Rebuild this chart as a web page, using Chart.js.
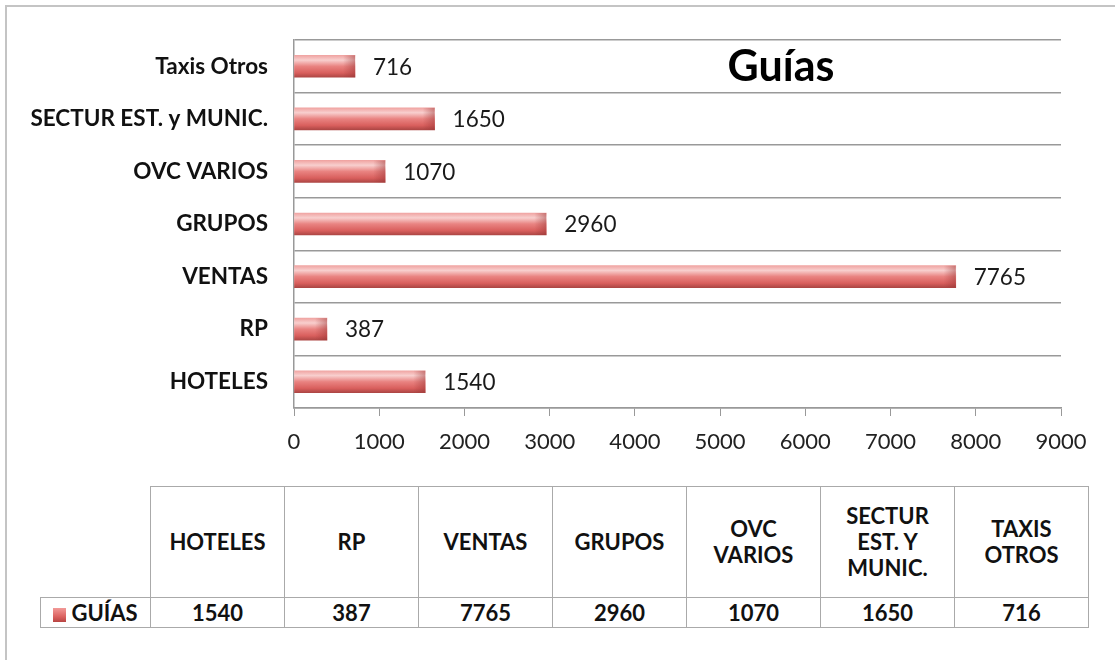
<!DOCTYPE html>
<html>
<head>
<meta charset="utf-8">
<script src="https://cdn.jsdelivr.net/npm/chart.js@4"></script>
<style>
  body { margin: 0; background: #fff; font-family: Lato, sans-serif; }
  #wrap { position: relative; width: 1115px; height: 660px; overflow: hidden; }
  #frame { position: absolute; left: 5px; top: 5px; width: 1130px; height: 680px; border: 2px solid #c4c4c4; }
  #box { position: absolute; left: 0; top: 0; width: 1115px; height: 470px; }
  #tbl { position: absolute; left: 40px; top: 486px; border-collapse: collapse; table-layout: fixed; width: 1048px; }
  #tbl td { border: 1.5px solid #aaa; text-align: center; font-weight: bold; font-size: 22px; color: #111; padding: 0; white-space: pre-line; line-height: 26px; }
  #tbl tr.head td { height: 110px; }
  #tbl tr.head td.blank { border: none; border-bottom: 1.5px solid #aaa; }
  #tbl tr.vals td { height: 29px; }
  .swatch { display: inline-block; width: 13px; height: 14px; margin-right: 5px; vertical-align: -1px;
    background: linear-gradient(#f29a98, #dc6361 60%, #b84442); }
</style>
</head>
<body>
<div id="wrap">
  <div id="frame"></div>
  <div id="box"><canvas id="chart"></canvas></div>
  <table id="tbl"></table>
</div>
<script>
let categories = ['HOTELES', 'RP', 'VENTAS', 'GRUPOS', 'OVC VARIOS', 'SECTUR EST. y MUNIC.', 'Taxis Otros'];
let tableHeads = ['HOTELES', 'RP', 'VENTAS', 'GRUPOS', 'OVC\nVARIOS', 'SECTUR\nEST. Y\nMUNIC.', 'TAXIS\nOTROS'];
let guias = [1540, 387, 7765, 2960, 1070, 1650, 716];
let seriesName = 'GUÍAS';
let xTicks = [0, 1000, 2000, 3000, 4000, 5000, 6000, 7000, 8000, 9000];

// data table under the chart
let tbl = document.getElementById('tbl');
let cols = '<colgroup><col style="width:110px">';
tableHeads.forEach(() => cols += '<col style="width:134px">');
cols += '</colgroup>';
let head = '<tr class="head"><td class="blank"></td>';
tableHeads.forEach(h => head += '<td>' + h + '</td>');
head += '</tr>';
let row = '<tr class="vals"><td><span class="swatch"></span>' + seriesName + '</td>';
guias.forEach(v => row += '<td>' + v + '</td>');
row += '</tr>';
tbl.innerHTML = cols + head + row;

const BAR_H = 22;

// shaded bar fill, computed per bar from the y scale
function barFill(context) {
    let chart = context.chart;
    let y = chart.scales.y;
    if (!y || context.dataIndex === undefined) return '#dc6361';
    let cy = y.getPixelForValue(context.dataIndex);
    if (!isFinite(cy)) return '#dc6361';
    let g = chart.ctx.createLinearGradient(0, cy - BAR_H / 2, 0, cy + BAR_H / 2);
    g.addColorStop(0, '#f0a4a2');
    g.addColorStop(0.22, '#f8cfce');
    g.addColorStop(0.5, '#e98381');
    g.addColorStop(0.8, '#d95f5d');
    g.addColorStop(1, '#ad4644');
    return g;
}

// value labels, bar end shading + title
const extras = {
    id: 'extras',
    afterDatasetsDraw(chart) {
        let c = chart.ctx;
        c.save();
        chart.getDatasetMeta(0).data.forEach((bar, i) => {
            let top = bar.y - BAR_H / 2;
            let g = c.createLinearGradient(bar.x - 12, 0, bar.x, 0);
            g.addColorStop(0, 'rgba(150,50,50,0)');
            g.addColorStop(1, 'rgba(150,50,50,0.45)');
            c.fillStyle = g;
            c.fillRect(bar.x - 12, top, 12, BAR_H);
        });
        c.font = '22.5px Lato';
        c.fillStyle = '#1a1a1a';
        c.textBaseline = 'middle';
        chart.getDatasetMeta(0).data.forEach((bar, i) => {
            c.fillText(guias[i], bar.x + 18, bar.y + 1);
        });
        c.font = 'bold 43px Lato';
        c.fillStyle = '#000';
        c.textAlign = 'center';
        c.fillText('Guías', 781, 67);
        c.restore();
    }
};

let ctx = document.getElementById('chart').getContext('2d');
let myChart = new Chart(ctx, {
    type: 'bar',
    data: {
        labels: categories,
        datasets: [{
            label: seriesName,
            data: guias,
            backgroundColor: barFill,
            borderWidth: 0,
            barThickness: BAR_H
        }]
    },
    plugins: [extras],
    options: {
        indexAxis: 'y',
        responsive: true,
        maintainAspectRatio: false,
        animation: false,
        layout: { padding: { top: 40, right: 54, left: 0, bottom: 0 } },
        plugins: {
            legend: { display: false },
            tooltip: { enabled: false }
        },
        scales: {
            x: {
                min: 0,
                max: 9000,
                afterBuildTicks: s => { s.ticks = xTicks.map(v => ({ value: v })); },
                afterFit: s => { s.height = 62; },
                grid: { drawOnChartArea: false, drawTicks: true, tickLength: 8, color: '#999' },
                border: { color: '#999', width: 1.5 },
                ticks: { color: '#222', font: { family: 'Lato', size: 22 }, padding: 13, maxRotation: 0,
                    callback: v => String(v) }
            },
            y: {
                reverse: true,
                afterFit: s => { s.width = 294; },
                grid: { color: '#999', lineWidth: 1.5, drawTicks: false, offset: true },
                border: { color: '#999', width: 1.5 },
                ticks: { color: '#111', font: { family: 'Lato', size: 22.5, weight: 'bold' }, padding: 26 }
            }
        }
    }
});
</script>
</body>
</html>
